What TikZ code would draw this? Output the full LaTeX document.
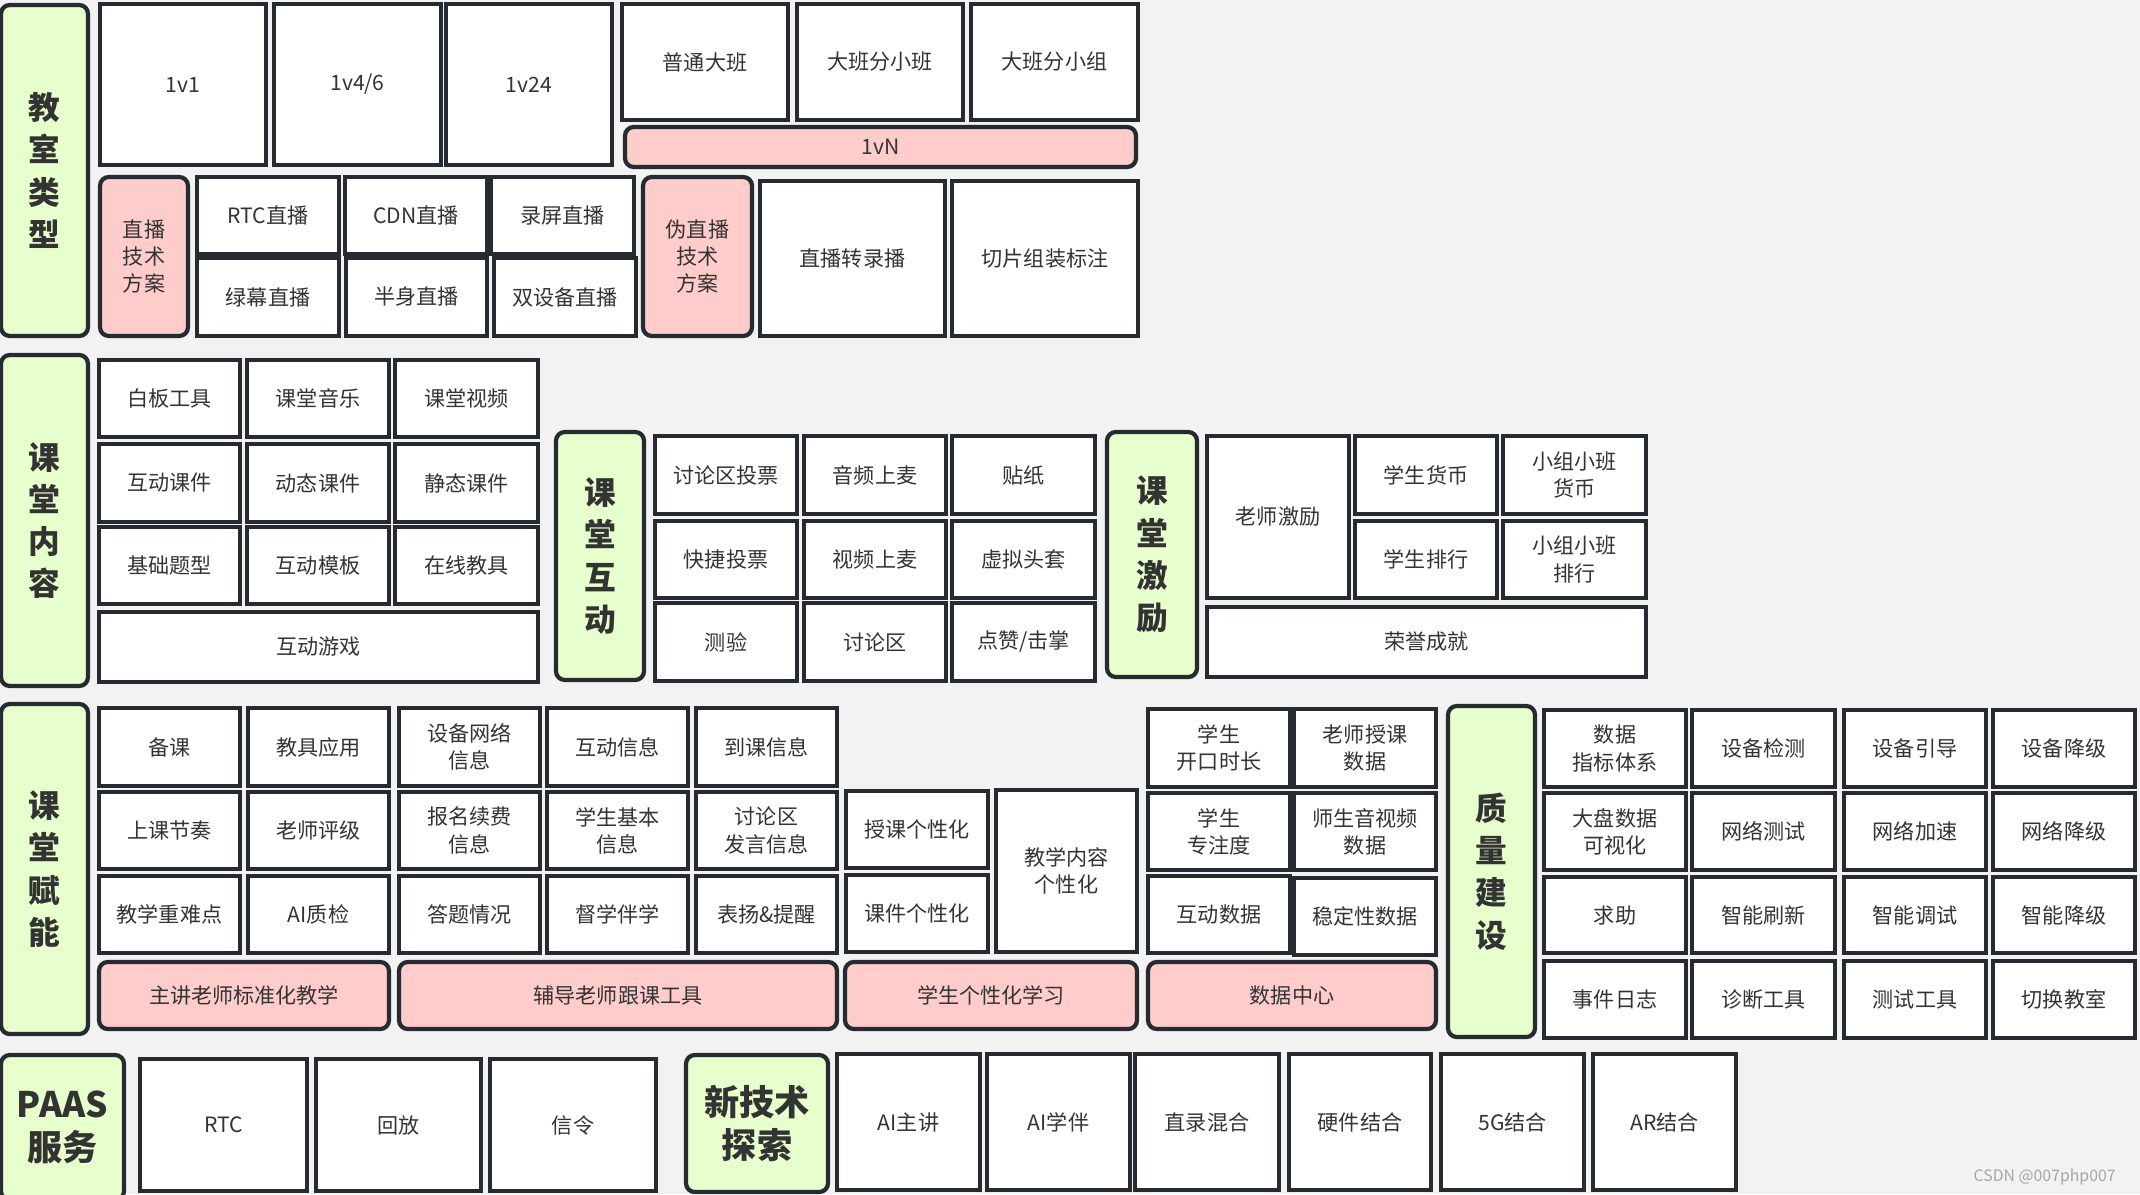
\documentclass[tikz,border=0pt]{standalone}
\usepackage{fontspec}
\setmainfont{Noto Sans CJK SC}
\usetikzlibrary{fit}

\definecolor{bgc}{HTML}{F2F2F2}
\definecolor{edge}{HTML}{252B31}
\definecolor{leaf}{HTML}{E6FFCC}
\definecolor{rose}{HTML}{FFCCCC}
\definecolor{ink}{HTML}{333333}

\tikzset{
  cell/.style={draw=edge, line width=1.2pt, fill=white, inner sep=0pt},
  plan/.style={cell, fill=rose, rounded corners=2.5pt},
  head/.style={cell, fill=leaf, rounded corners=2.5pt},
  headbig/.style={head},
  cell text/.style={text=ink, align=center, inner sep=0pt, font=\fontsize{6}{7.7}\selectfont},
  plan text/.style={cell text},
  head text/.style={cell text, font=\fontsize{9}{12}\selectfont\bfseries},
  headbig text/.style={cell text, font=\fontsize{10}{12.3}\selectfont\bfseries},
}

% block from corner (x1,y1) to corner (x2,y2), in pixels of the sheet
\newcommand{\blk}[7][cell]{%
  \node[#1, fit={(#3,#4) (#5,#6)}] (#2) {};
  \node[#1 text] (#2-t) at (#2) {#7};}

\begin{document}
\begin{tikzpicture}[x=0.01cm, y=-0.01cm]
    \useasboundingbox (0,0) rectangle (2140,1194);
    \fill[bgc] (0,0) rectangle (2140,1194);

    % classroom types
    \blk[head]{jslx}{1}{5}{88}{336}{教\\室\\类\\型}
    \blk{v1}{100}{4}{266}{165}{1v1}
    \blk{v46}{274}{4}{441}{165}{1v4/6}
    \blk{v24}{446}{4}{612}{165}{1v24}
    \blk{ptdb}{622}{4}{788}{120}{普通大班}
    \blk{dbfxb}{797}{4}{963}{120}{大班分小班}
    \blk{dbfxz}{971}{4}{1138}{120}{大班分小组}
    \blk[plan]{vN}{625}{127}{1136}{167}{1vN}
    \blk[plan]{zbjs}{100}{177}{188}{336}{直播\\技术\\方案}
    \blk{rtczb}{197}{177}{339}{254}{RTC直播}
    \blk{cdnzb}{345}{177}{487}{254}{CDN直播}
    \blk{lpzb}{491}{177}{634}{254}{录屏直播}
    \blk{lmzb}{197}{258}{339}{336}{绿幕直播}
    \blk{bszb}{346}{258}{487}{336}{半身直播}
    \blk{sbzb}{494}{258}{636}{336}{双设备直播}
    \blk[plan]{wzb}{643}{177}{752}{336}{伪直播\\技术\\方案}
    \blk{zzlb}{760}{181}{945}{336}{直播转录播}
    \blk{qpzz}{952}{181}{1138}{336}{切片组装标注}

    % classroom content
    \blk[head]{ktnr}{1}{355}{88}{686}{课\\堂\\内\\容}
    \blk{bbgj}{99}{360}{240}{437}{白板工具}
    \blk{ktyy}{247}{360}{389}{437}{课堂音乐}
    \blk{ktsp}{395}{360}{538}{437}{课堂视频}
    \blk{hdkj}{99}{444}{240}{522}{互动课件}
    \blk{dtkj}{247}{444}{389}{522}{动态课件}
    \blk{jtkj}{395}{444}{538}{522}{静态课件}
    \blk{jctx}{99}{527}{240}{604}{基础题型}
    \blk{hdmb}{247}{527}{389}{604}{互动模板}
    \blk{zxjj}{395}{527}{538}{604}{在线教具}
    \blk{hdyx}{99}{612}{538}{682}{互动游戏}

    % classroom interaction
    \blk[head]{kthd}{556}{432}{644}{680}{课\\堂\\互\\动}
    \blk{tlqtp}{655}{436}{797}{514}{讨论区投票}
    \blk{ypsm}{804}{436}{946}{514}{音频上麦}
    \blk{tz}{952}{436}{1095}{514}{贴纸}
    \blk{kjtp}{655}{521}{797}{598}{快捷投票}
    \blk{spsm}{804}{521}{946}{598}{视频上麦}
    \blk{xntt}{952}{521}{1095}{598}{虚拟头套}
    \blk{cy}{655}{603}{797}{681}{测验}
    \blk{tlq}{804}{603}{946}{681}{讨论区}
    \blk{dz}{952}{603}{1095}{681}{点赞/击掌}

    % classroom incentives
    \blk[head]{ktjl}{1107}{432}{1197}{677}{课\\堂\\激\\励}
    \blk{lsjl}{1207}{436}{1349}{598}{老师激励}
    \blk{xshb}{1355}{436}{1497}{514}{学生货币}
    \blk{xzhb}{1503}{436}{1646}{514}{小组小班\\货币}
    \blk{xsph}{1355}{521}{1497}{598}{学生排行}
    \blk{xzph}{1503}{521}{1646}{598}{小组小班\\排行}
    \blk{rycj}{1207}{607}{1646}{677}{荣誉成就}

    % classroom empowerment
    \blk[head]{ktfn}{1}{704}{88}{1034}{课\\堂\\赋\\能}
    \blk{bk}{99}{708}{240}{786}{备课}
    \blk{jjyy}{248}{708}{389}{786}{教具应用}
    \blk{sbwl}{399}{708}{540}{786}{设备网络\\信息}
    \blk{hdxx}{547}{708}{688}{786}{互动信息}
    \blk{dkxx}{696}{708}{837}{786}{到课信息}
    \blk{skjz}{99}{792}{240}{869}{上课节奏}
    \blk{lspj}{248}{792}{389}{869}{老师评级}
    \blk{bmxf}{399}{792}{540}{869}{报名续费\\信息}
    \blk{xsjb}{547}{792}{688}{869}{学生基本\\信息}
    \blk{tlqfy}{696}{792}{837}{869}{讨论区\\发言信息}
    \blk{jxzn}{99}{876}{240}{953}{教学重难点}
    \blk{aizj}{248}{876}{389}{953}{AI质检}
    \blk{dtqk}{399}{876}{540}{953}{答题情况}
    \blk{dxbx}{547}{876}{688}{953}{督学伴学}
    \blk{byts}{696}{876}{837}{953}{表扬\&提醒}
    \blk{skgx}{846}{791}{988}{868}{授课个性化}
    \blk{kjgx}{846}{875}{988}{952}{课件个性化}
    \blk{jxnr}{996}{790}{1137}{952}{教学内容\\个性化}
    \blk{xskk}{1148}{709}{1290}{787}{学生\\开口时长}
    \blk{lssk}{1294}{709}{1436}{787}{老师授课\\数据}
    \blk{xszz}{1148}{793}{1290}{870}{学生\\专注度}
    \blk{ssyp}{1294}{793}{1436}{870}{师生音视频\\数据}
    \blk{hdsj}{1148}{876}{1290}{953}{互动数据}
    \blk{wdsj}{1294}{878}{1436}{955}{稳定性数据}
    \blk[plan]{zjls}{99}{962}{389}{1029}{主讲老师标准化教学}
    \blk[plan]{fdls}{399}{962}{837}{1029}{辅导老师跟课工具}
    \blk[plan]{xsgx}{845}{962}{1137}{1029}{学生个性化学习}
    \blk[plan]{sjzx}{1148}{962}{1436}{1029}{数据中心}

    % quality
    \blk[head]{zljs}{1448}{706}{1535}{1037}{质\\量\\建\\设}
    \blk{sjzb}{1544}{710}{1686}{787}{数据\\指标体系}
    \blk{sbjc}{1692}{710}{1835}{787}{设备检测}
    \blk{sbyd}{1844}{710}{1986}{787}{设备引导}
    \blk{sbjj}{1993}{710}{2135}{787}{设备降级}
    \blk{dpsj}{1544}{793}{1686}{870}{大盘数据\\可视化}
    \blk{wlcs}{1692}{793}{1835}{870}{网络测试}
    \blk{wljs}{1844}{793}{1986}{870}{网络加速}
    \blk{wljj}{1993}{793}{2135}{870}{网络降级}
    \blk{qz}{1544}{877}{1686}{953}{求助}
    \blk{znsx}{1692}{877}{1835}{953}{智能刷新}
    \blk{zntS}{1844}{877}{1986}{953}{智能调试}
    \blk{znjj}{1993}{877}{2135}{953}{智能降级}
    \blk{sjrz}{1544}{961}{1686}{1038}{事件日志}
    \blk{zdgj}{1692}{961}{1835}{1038}{诊断工具}
    \blk{csgj}{1844}{961}{1986}{1038}{测试工具}
    \blk{qhjs}{1993}{961}{2135}{1038}{切换教室}

    % paas and new tech
    \blk[headbig]{paas}{1}{1055}{124}{1200}{PAAS\\服务}
    \blk{rtc}{140}{1059}{307}{1191}{RTC}
    \blk{hf}{316}{1059}{481}{1191}{回放}
    \blk{xl}{490}{1059}{656}{1191}{信令}
    \blk[headbig]{xjs}{686}{1055}{828}{1192}{新技术\\探索}
    \blk{aizjg}{837}{1054}{980}{1190}{AI主讲}
    \blk{aixb}{987}{1054}{1130}{1190}{AI学伴}
    \blk{zlhh}{1135}{1054}{1279}{1190}{直录混合}
    \blk{yjjh}{1289}{1054}{1431}{1190}{硬件结合}
    \blk{wgjh}{1441}{1054}{1584}{1190}{5G结合}
    \blk{arjh}{1593}{1054}{1736}{1190}{AR结合}

    \node[text=gray!70, font=\fontsize{4.5}{5}\selectfont, anchor=east] (mark) at (2128,1177) {CSDN @007php007};
\end{tikzpicture}
\end{document}
